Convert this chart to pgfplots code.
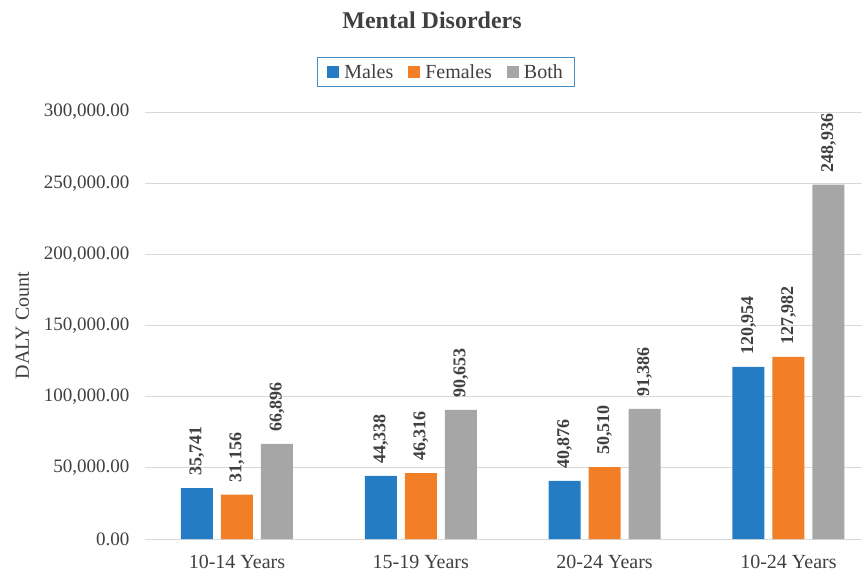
\documentclass[border=0pt]{standalone}
\usepackage{pgfplots}
\pgfplotsset{compat=1.18}
\usepackage{fontspec}
\setmainfont{Liberation Serif}
\definecolor{cmale}{RGB}{36,125,196}
\definecolor{cfemale}{RGB}{242,126,38}
\definecolor{cboth}{RGB}{166,166,166}
\definecolor{ctext}{RGB}{64,64,64}
\definecolor{cgrid}{RGB}{217,217,217}
\definecolor{clegend}{RGB}{70,140,190}
\begin{document}
\begin{tikzpicture}
\begin{axis}[
  scale only axis,
  width=717pt, height=427pt,
  xmin=-0.5, xmax=3.4,
  ymin=0, ymax=300000,
  ytick={0,50000,100000,150000,200000,250000,300000},
  xtick={0,1,2,3},
  xticklabels={10-14 Years,15-19 Years,20-24 Years,10-24 Years},
  major tick length=0pt,
  axis line style={draw=none},
  ymajorgrids, grid style={cgrid, line width=1pt},
  scaled y ticks=false,
  /pgf/number format/assume math mode=true,
  yticklabel style={/pgf/number format/fixed, /pgf/number format/fixed zerofill, /pgf/number format/precision=2, /pgf/number format/1000 sep={,}, xshift=-12pt, font=\fontsize{19}{22}\selectfont, text=ctext},
  xticklabel style={yshift=-13pt, font=\fontsize{20}{23}\selectfont, text=ctext},
  ylabel={DALY Count},
  ylabel style={font=\fontsize{20}{23}\selectfont, text=ctext, yshift=8pt},
  bar width=32pt,
  ybar,
  nodes near coords,
  nodes near coords style={rotate=90, anchor=west, inner xsep=12pt, inner ysep=0pt,
    font=\fontsize{18}{21}\selectfont\bfseries, text=ctext,
    /pgf/number format/fixed, /pgf/number format/1000 sep={,}, /pgf/number format/assume math mode=true},
  legend style={at={(rel axis cs:0.42,1)}, anchor=center, yshift=40pt,
    draw=clegend, line width=1pt, legend columns=-1,
    font=\fontsize{20}{23}\selectfont, text=ctext,
    /tikz/every even column/.append style={column sep=13pt},
    /tikz/every odd column/.append style={column sep=3pt},
    inner xsep=10pt, inner ysep=5pt},
  legend image code/.code={\fill[#1] (0pt,-6pt) rectangle (12pt,6pt);},
]
\addplot[fill=cmale, draw=none, bar shift=-40pt] coordinates {(0,35741) (1,44338) (2,40876) (3,120954)};
\addplot[fill=cfemale, draw=none, bar shift=0pt] coordinates {(0,31156) (1,46316) (2,50510) (3,127982)};
\addplot[fill=cboth, draw=none, bar shift=40pt] coordinates {(0,66896) (1,90653) (2,91386) (3,248936)};
\legend{Males,Females,Both}
\end{axis}
\node[font=\fontsize{24}{28}\selectfont\bfseries, text=ctext] at ([xshift=287pt,yshift=92pt]current axis.north west) {Mental Disorders};
\pgfresetboundingbox
\useasboundingbox ([xshift=-145pt,yshift=-37pt]current axis.south west) rectangle ([xshift=6pt,yshift=112pt]current axis.north east);
\end{tikzpicture}
\end{document}
